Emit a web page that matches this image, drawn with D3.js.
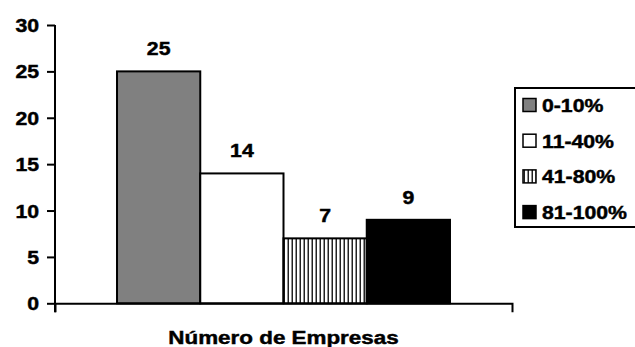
<!DOCTYPE html>
<html>
<head>
<meta charset="utf-8">
<script src="https://cdn.jsdelivr.net/npm/d3@7"></script>
<style>
  body { margin: 0; background: #fff; }
  svg { display: block; font-family: "Liberation Sans", Arial, sans-serif; font-weight: bold; }
  svg text { stroke: #000; stroke-width: 0.45px; }
</style>
</head>
<body>
<div id="chart"></div>
<script>
// data
var categories = ["Número de Empresas"];
var series = ["0-10%", "11-40%", "41-80%", "81-100%"];
var values = [25, 14, 7, 9];
var yTicks = [0, 5, 10, 15, 20, 25, 30];

var w = 635, h = 347,
    mLeft = 55, mTop = 25,
    plotW = 457, plotH = 278.3,
    sx = 1.18; // text looks stretched sideways

var fills = ["#808080", "#ffffff", "url(#vlines)", "#000000"];

var svg = d3.select("#chart").append("svg")
  .attr("width", w)
  .attr("height", h);

var defs = svg.append("defs");
var pat = defs.append("pattern")
  .attr("id", "vlines")
  .attr("patternUnits", "userSpaceOnUse")
  .attr("width", 4).attr("height", 4);
pat.append("rect").attr("width", 4).attr("height", 4).attr("fill", "#fff");
pat.append("rect").attr("x", 0.5).attr("width", 1.5).attr("height", 4).attr("fill", "#222");

var g = svg.append("g").attr("transform", `translate(${mLeft},${mTop})`);

var x0 = d3.scaleBand().domain(categories).range([0, plotW]);
var x1 = d3.scaleBand().domain(series).range([0, x0.bandwidth()])
  .paddingInner(0).paddingOuter(0.745);
var y = d3.scaleLinear().domain([0, 30]).range([plotH, 0]);

// bars
var grp = g.selectAll("g.cat").data(categories).enter().append("g")
  .attr("class", "cat")
  .attr("transform", d => `translate(${x0(d)},0)`);

grp.selectAll("rect").data(series.map((s, i) => ({ s: s, v: values[i], i: i })))
  .enter().append("rect")
  .attr("x", d => x1(d.s))
  .attr("y", d => y(d.v))
  .attr("width", x1.bandwidth())
  .attr("height", d => y(0) - y(d.v))
  .attr("fill", d => fills[d.i])
  .attr("stroke", "#000")
  .attr("stroke-width", 2);

grp.selectAll("text.val").data(series.map((s, i) => ({ s: s, v: values[i] })))
  .enter().append("text")
  .attr("class", "val")
  .attr("transform", d => `translate(${x1(d.s) + x1.bandwidth() / 2},${y(d.v) - 16}) scale(${sx},1)`)
  .attr("text-anchor", "middle")
  .style("font-size", "18px")
  .text(d => d.v);

// y axis
var yAxis = g.append("g")
  .call(d3.axisLeft(y).tickValues(yTicks).tickSize(8).tickSizeOuter(0).tickPadding(0));
yAxis.select(".domain").attr("stroke", "#000").attr("stroke-width", 2)
  .attr("d", `M0,0V${plotH + 9}`);
yAxis.selectAll(".tick line").attr("stroke", "#000").attr("stroke-width", 2);
yAxis.selectAll(".tick text")
  .attr("x", null).attr("dy", null)
  .attr("transform", `translate(-16,6.5) scale(${sx},1)`)
  .attr("fill", "#000")
  .style("font-size", "18px")
  .style("font-family", "Liberation Sans, Arial, sans-serif")
  .style("font-weight", "bold");

// x axis
var xAxis = g.append("g")
  .attr("transform", `translate(0,${plotH})`)
  .call(d3.axisBottom(x0).tickSize(0).tickSizeOuter(9).tickFormat(""));
xAxis.select(".domain").attr("stroke", "#000").attr("stroke-width", 2);

svg.append("text")
  .attr("transform", `translate(${mLeft + plotW / 2},${h - 3}) scale(${sx},1)`)
  .attr("text-anchor", "middle")
  .style("font-size", "19px")
  .text(categories[0]);

// legend
var lg = svg.append("g").attr("transform", "translate(515,88)");
lg.append("rect")
  .attr("width", 130).attr("height", 139)
  .attr("fill", "#fff").attr("stroke", "#000").attr("stroke-width", 2);

var items = lg.selectAll("g.item").data(series).enter().append("g")
  .attr("class", "item")
  .attr("transform", (d, i) => `translate(8,${17.5 + i * 35.7})`);
items.append("rect")
  .attr("y", -7).attr("width", 13).attr("height", 13)
  .attr("fill", (d, i) => fills[i])
  .attr("stroke", "#000").attr("stroke-width", 1.5);
items.append("text")
  .attr("transform", `translate(19,6.5) scale(${sx},1)`)
  .style("font-size", "18px")
  .text(d => d);
</script>
</body>
</html>
